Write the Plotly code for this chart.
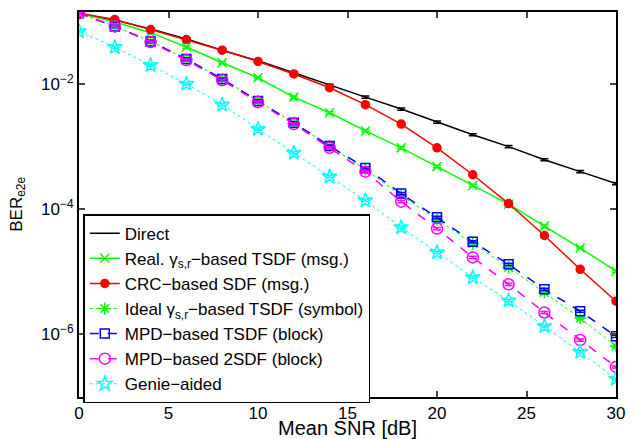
import plotly.graph_objects as go

snr = [0, 2, 4, 6, 8, 10, 12, 14, 16, 18, 20, 22, 24, 26, 28, 30]

# BER values (log10)
direct_log = [-0.87, -0.98, -1.12, -1.28, -1.46, -1.63, -1.82, -2.02, -2.21, -2.40, -2.61, -2.81, -3.00, -3.21, -3.40, -3.59]
real_log = [-0.87, -1.01, -1.18, -1.41, -1.66, -1.90, -2.21, -2.46, -2.75, -3.02, -3.32, -3.62, -3.92, -4.27, -4.62, -4.99]
crc_log = [-0.87, -0.97, -1.13, -1.29, -1.46, -1.64, -1.84, -2.06, -2.33, -2.64, -3.02, -3.45, -3.91, -4.42, -4.96, -5.47]
ideal_log = [-0.87, -1.08, -1.32, -1.60, -1.92, -2.27, -2.62, -2.99, -3.37, -3.78, -4.17, -4.55, -4.93, -5.33, -5.74, -6.19]
mpd_tsdf_log = [-0.87, -1.08, -1.32, -1.60, -1.92, -2.27, -2.62, -2.99, -3.34, -3.75, -4.13, -4.52, -4.88, -5.28, -5.63, -6.03]
mpd_2sdf_log = [-0.87, -1.08, -1.33, -1.62, -1.94, -2.29, -2.64, -3.02, -3.40, -3.88, -4.31, -4.77, -5.20, -5.65, -6.09, -6.52]
genie_log = [-1.16, -1.41, -1.70, -2.00, -2.33, -2.72, -3.10, -3.48, -3.86, -4.29, -4.69, -5.09, -5.46, -5.87, -6.28, -6.71]

names = [
    "Direct",
    "Real. γ<sub>s,r</sub>−based TSDF (msg.)",
    "CRC−based SDF (msg.)",
    "Ideal γ<sub>s,r</sub>−based TSDF (symbol)",
    "MPD−based TSDF (block)",
    "MPD−based 2SDF (block)",
    "Genie−aided",
]

ytick_vals = [1e-6, 1e-4, 1e-2]
ytick_text = ["10<sup>−6</sup>", "10<sup>−4</sup>", "10<sup>−2</sup>"]


def to_ber(vals):
    return [10 ** v for v in vals]


styles = [
    (direct_log, "#000000", "solid", None, 8, 1.5),
    (real_log, "#00ff00", "solid", "x-thin-open", 9, 1.5),
    (crc_log, "#ff0000", "solid", "circle", 8, 1.5),
    (ideal_log, "#00ff00", "dot", "asterisk-open", 10, 1),
    (mpd_tsdf_log, "#0000ff", "dash", "square-open", 9, 1.5),
    (mpd_2sdf_log, "#ff00ff", "dash", "circle-open", 11, 1.5),
    (genie_log, "#00ffff", "dot", "star-open", 11, 1),
]

fig = go.Figure()
for name, (vals, color, dash, symbol, size, lw) in zip(names, styles):
    marker = dict(color=color, size=size, line=dict(color=color, width=1.5))
    if symbol:
        marker["symbol"] = symbol
    fig.add_trace(go.Scatter(
        x=snr, y=to_ber(vals), name=name,
        mode="lines+markers" if symbol else "lines",
        line=dict(color=color, dash=dash, width=lw),
        marker=marker,
        error_y=dict(type="percent", value=4, width=4, thickness=1.5, color=color),
    ))

fig.update_layout(
    width=636, height=439,
    margin=dict(l=79, r=20, t=12, b=42),
    paper_bgcolor="white", plot_bgcolor="white",
    font=dict(family="Liberation Sans, Arial, sans-serif", size=17, color="black"),
    showlegend=True,
    legend=dict(
        x=0.008, y=0.475, xanchor="left", yanchor="top",
        bgcolor="white", bordercolor="black", borderwidth=1.5,
        font=dict(size=17), tracegroupgap=0, itemwidth=30,
    ),
)
fig.update_xaxes(
    range=[0, 30], tickvals=[0, 5, 10, 15, 20, 25, 30], automargin=False,
    showline=True, mirror="ticks", linecolor="black", linewidth=2,
    ticks="inside", ticklen=6, tickwidth=1.5, showgrid=False, zeroline=False,
    title=dict(text="Mean SNR [dB]", standoff=2),
)
fig.update_yaxes(
    type="log", range=[-7, -0.85], tickvals=ytick_vals, ticktext=ytick_text,
    automargin=False,
    showline=True, mirror="ticks", linecolor="black", linewidth=2,
    ticks="inside", ticklen=6, tickwidth=1.5, showgrid=False, zeroline=False,
)
fig.add_annotation(
    text="BER<sub>e2e</sub>", textangle=-90, showarrow=False,
    xref="paper", yref="paper", x=-0.115, y=0.5, xanchor="center", yanchor="middle",
    font=dict(size=17),
)

fig.write_html("out.html", config={"displayModeBar": False},
               post_script="document.body.style.margin='0';")
